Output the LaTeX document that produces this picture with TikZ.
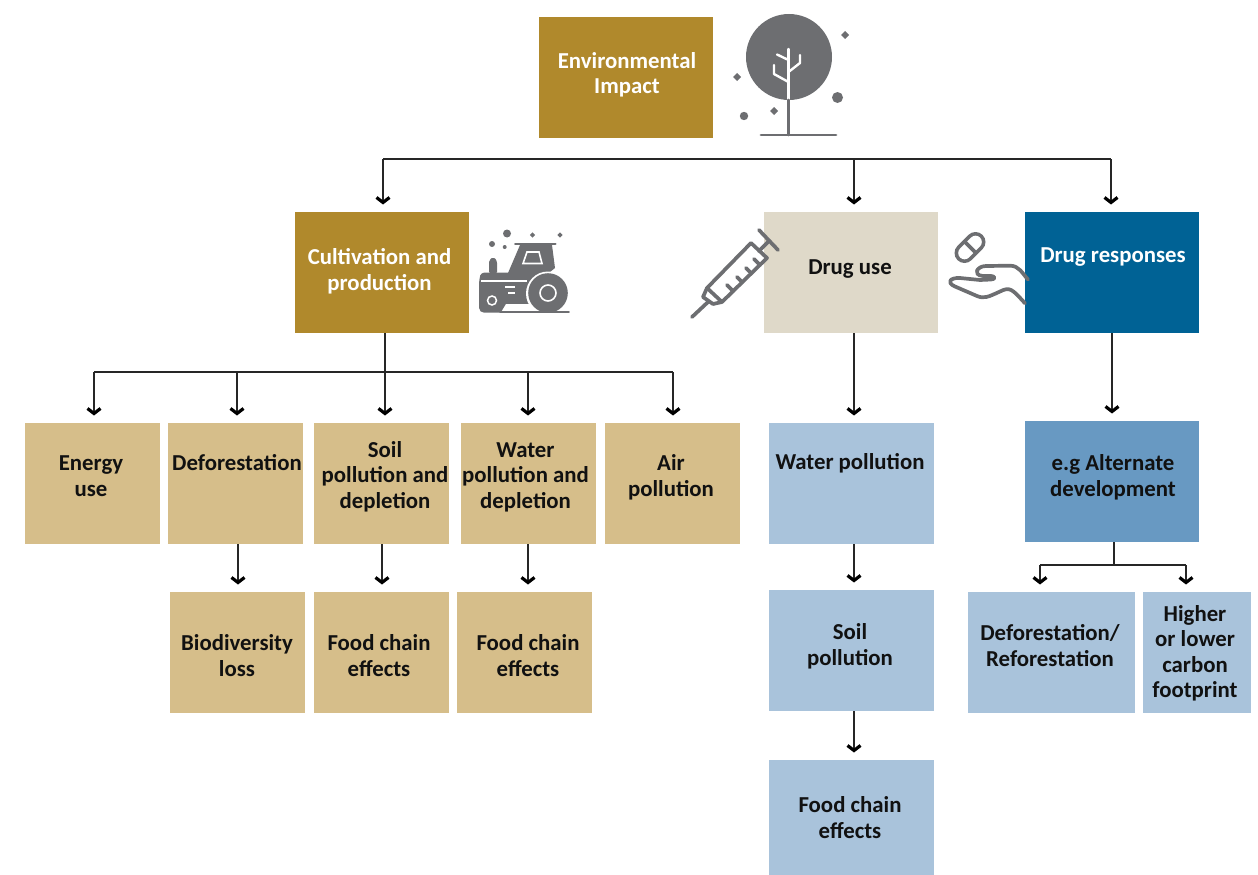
\documentclass[tikz,border=0pt]{standalone}
\usepackage{fontspec}
\setmainfont{Carlito}
\usetikzlibrary{arrows.meta}
\definecolor{gold}{HTML}{B0892C}
\definecolor{cream}{HTML}{DFD9C9}
\definecolor{navy}{HTML}{006295}
\definecolor{tan}{HTML}{D6BE8A}
\definecolor{pale}{HTML}{A9C3DB}
\definecolor{midblue}{HTML}{6899C2}
\definecolor{icon}{HTML}{6D6E71}
\definecolor{ink}{HTML}{111111}
\tikzset{
  box/.style={inner sep=0pt,outer sep=0pt,font=\bfseries\fontsize{22.8}{25.5}\selectfont,text=ink},
  goldbox/.style={box,fill=gold,text=white},
  creambox/.style={box,fill=cream},
  navybox/.style={box,fill=navy,text=white},
  tanbox/.style={box,fill=tan},
  palebox/.style={box,fill=pale},
  midbox/.style={box,fill=midblue},
  link/.style={draw=black!85,line width=1.3pt},
  arr/.style={link,-{Straight Barb[length=5pt,width=13pt,line width=3.2pt,black]},shorten >=7.5pt},
  iconline/.style={draw=icon,line width=3.7pt,line cap=round,line join=round},
  treeline/.style={draw=icon,line width=2.8pt,line cap=round,line join=round},
  whiteline/.style={draw=white,line width=2.4pt,line cap=round,line join=round},
}
% name, x0,y0,x1,y1, style, text centre x,y, text
\newcommand{\tb}[9]{%
  \pgfmathsetlengthmacro{\bw}{(#4)-(#2)}%
  \pgfmathsetlengthmacro{\bh}{(#5)-(#3)}%
  \pgfmathsetlengthmacro{\tdx}{2*((#7)-((#2)+(#4))/2)}%
  \pgfmathsetlengthmacro{\tdy}{((#3)+(#5))/2-(#8)-8.6}%
  \node[#6,minimum width=\bw,minimum height=\bh] (#1) at ({((#2)+(#4))/2},{((#3)+(#5))/2})
    {\raisebox{\tdy}[0pt][0pt]{\makebox[0pt]{\hspace*{\tdx}\begin{tabular}{@{}c@{}}#9\end{tabular}}}};%
}
\begin{document}
\begin{tikzpicture}[x=1pt,y=-1pt]
\useasboundingbox (0,0) rectangle (1258,875);
\tb{env}{539}{17}{713}{138}{goldbox}{627}{72.5}{Environmental\\Impact}
\tb{cult}{295}{212}{469}{333}{goldbox}{379.5}{269}{Cultivation and\\production}
\tb{use}{764}{212}{938}{333}{creambox}{850}{266}{Drug use}
\tb{resp}{1025}{212}{1199}{333}{navybox}{1113}{254}{Drug responses}
\tb{energy}{25}{423}{160}{544}{tanbox}{91}{475}{Energy\\use}
\tb{defor}{168}{423}{303}{544}{tanbox}{237}{462}{Deforestation}
\tb{soil}{314}{423}{449}{544}{tanbox}{385}{474}{Soil\\pollution and\\depletion}
\tb{water}{461}{423}{596}{544}{tanbox}{525.5}{474}{Water\\pollution and\\depletion}
\tb{air}{605}{423}{740}{544}{tanbox}{671}{475}{Air\\pollution}
\tb{bio}{170}{592}{305}{713}{tanbox}{237}{655}{Biodiversity\\loss}
\tb{foodA}{314}{592}{449}{713}{tanbox}{379}{655}{Food chain\\effects}
\tb{foodB}{457}{592}{592}{713}{tanbox}{528}{655}{Food chain\\effects}
\tb{wpol}{769}{423}{934}{544}{palebox}{850}{461}{Water pollution}
\tb{spol}{769}{590}{934}{711}{palebox}{850}{644}{Soil\\pollution}
\tb{foodC}{769}{760}{934}{875}{palebox}{850}{817}{Food chain\\effects}
\tb{alt}{1025}{421}{1199}{542}{midbox}{1113}{475}{e.g Alternate\\development}
\tb{refor}{968}{592}{1135}{713}{palebox}{1050}{645}{Deforestation/\\Reforestation}
\tb{carbon}{1143}{592}{1251}{713}{palebox}{1195}{651}{Higher\\or lower\\carbon\\footprint}

% top bus
\coordinate (tL) at (383,159);
\coordinate (tM) at (854,159);
\coordinate (tR) at (1111,159);
\draw[link] (tL) -- (tR);
\draw[arr] (tL) -- (tL |- cult.north);
\draw[arr] (tM) -- (tM |- use.north);
\draw[arr] (tR) -- (tR |- resp.north);
% cultivation bus
\coordinate (c0) at (385,333);
\coordinate (c1) at (94,372);
\coordinate (c2) at (237,372);
\coordinate (c3) at (385,372);
\coordinate (c4) at (528,372);
\coordinate (c5) at (673,372);
\draw[link] (c1) -- (c5);
\draw[arr] (c0) -- (c0 |- soil.north);
\draw[arr] (c1) -- (c1 |- energy.north);
\draw[arr] (c2) -- (c2 |- defor.north);
\draw[arr] (c4) -- (c4 |- water.north);
\draw[arr] (c5) -- (c5 |- air.north);
% second level
\coordinate (d1) at (238,544);
\coordinate (d2) at (382,544);
\coordinate (d3) at (528,544);
\draw[arr] (d1) -- (d1 |- bio.north);
\draw[arr] (d2) -- (d2 |- foodA.north);
\draw[arr] (d3) -- (d3 |- foodB.north);
% drug use column
\coordinate (u1) at (854,333);
\coordinate (u2) at (854,544);
\coordinate (u3) at (854,711);
\draw[arr] (u1) -- (u1 |- wpol.north);
\draw[arr] (u2) -- (u2 |- spol.north);
\draw[arr] (u3) -- (u3 |- foodC.north);
% drug responses
\coordinate (r1) at (1112,333);
\draw[arr] (r1) -- (r1 |- alt.north);
\coordinate (a0) at (1114,542);
\coordinate (aj) at (1114,565);
\coordinate (aL) at (1040,565);
\coordinate (aR) at (1186,565);
\draw[link] (a0) -- (aj);
\draw[link] (aL) -- (aR);
\draw[arr] (aL) -- (aL |- refor.north);
\draw[arr] (aR) -- (aR |- carbon.north);

% tree icon
\fill[icon] (789,57) circle (43);
\draw[whiteline] (788.5,49) -- (788.5,99);
\draw[whiteline] (788.5,72) -- (800,63) -- (800,55);
\draw[whiteline] (788.5,60) -- (777,54.5);
\draw[whiteline] (788.5,82) -- (774,74) -- (774,65);
\draw[treeline] (788.5,100) -- (788.5,135);
\draw[treeline] (761,135) -- (836,135);
\foreach \px/\py in {845/35,737/77,774/111}
  \fill[icon] (\px-4,\py) -- (\px,\py-4) -- (\px+4,\py) -- (\px,\py+4) -- cycle;
\fill[icon] (837.5,97.5) circle (5.5);
\fill[icon] (744,116) circle (4.2);

% tractor icon
\fill[icon] (507,233.5) circle (4);
\fill[icon] (492,244) circle (3);
\fill[icon] (504.7,247) circle (2);
\foreach \px/\py in {532.5/235,560/235}
  \fill[icon] (\px-2.7,\py) -- (\px,\py-2.7) -- (\px+2.7,\py) -- (\px,\py+2.7) -- cycle;
\draw[icon,line width=2pt,line cap=round] (515,243.8) -- (555.5,243.8);
\fill[icon] (520,245) -- (552,245) -- (555,268) -- (540,280) -- (510,280) -- (508,273) -- cycle;
\fill[icon] (489,273) -- (489,262) [rounded corners=1pt] -- (491,258) -- (495,258) -- (497,262) -- (497,273) -- cycle;
\fill[icon,rounded corners=3pt] (479,280) -- (481,272.7) -- (530,272.7) -- (545,280) -- (545,312.7) -- (490,312.7) [rounded corners=5pt] -- (479,312.7) -- cycle;
\draw[white,line width=1.6pt] (481,281) -- (527,281);
\draw[white,line width=1.2pt] (505,287) -- (515,287);
\draw[white,line width=1.2pt] (508,293) -- (515,293);
\fill[white] (500,314) -- (506,304) -- (540,304) -- (540,314) -- cycle;
\fill[white] (548,293.5) circle (22);
\fill[icon] (548,293) circle (19.8);
\draw[white,line width=1.6pt] (548,293) circle (8);
\draw[icon,line width=1.6pt,line cap=round] (500,312) -- (569,312);
\draw[white,line width=1.5pt] (492,300.5) circle (4.5);
\draw[white,line width=1.6pt,line join=miter] (527,252) -- (539,252) -- (542,263.5) -- (523,263.5) -- cycle;

% syringe icon
\begin{scope}[draw=icon,line width=3.7pt,line cap=round,line join=round]
\draw (707,288) -- (751,243) -- (767,258) -- (722,302) -- cycle;
\draw (759,251) -- (769,241);
\draw (759,230) -- (778,250);
\draw (703,297) -- (713,304);
\draw (692,317) -- (708,302);
\draw (703,297) -- (707,288);
\draw (713,304) -- (722,302);
\draw (733,291) -- (727,285);
\draw (742,282) -- (737,277);
\draw (751,273) -- (746,268);
\draw (760,265) -- (754,259);
\end{scope}

% pill and hand icon
\draw[icon,line width=20pt,line cap=round] (964.5,253) -- (975.5,242);
\draw[white,line width=12.6pt,line cap=round] (964.5,253) -- (975.5,242);
\draw[iconline,line cap=butt] (963.5,240.5) -- (977,254);
\draw[iconline] (1028,279.5) .. controls (1022,273) and (1019,265.7) .. (1010,265.7)
  -- (986,266) .. controls (977,266) and (972,275) .. (983,276)
  -- (991,276) .. controls (995,276) and (996,279.3) .. (991,279.5)
  -- (980,280) -- (960,278) .. controls (950,277.5) and (946,282.5) .. (955,286.5)
  -- (977,296) .. controls (984,299) and (988,297) .. (1000,291.5)
  .. controls (1010,286.5) and (1012,289) .. (1025,303.3);
\end{tikzpicture}
\end{document}
